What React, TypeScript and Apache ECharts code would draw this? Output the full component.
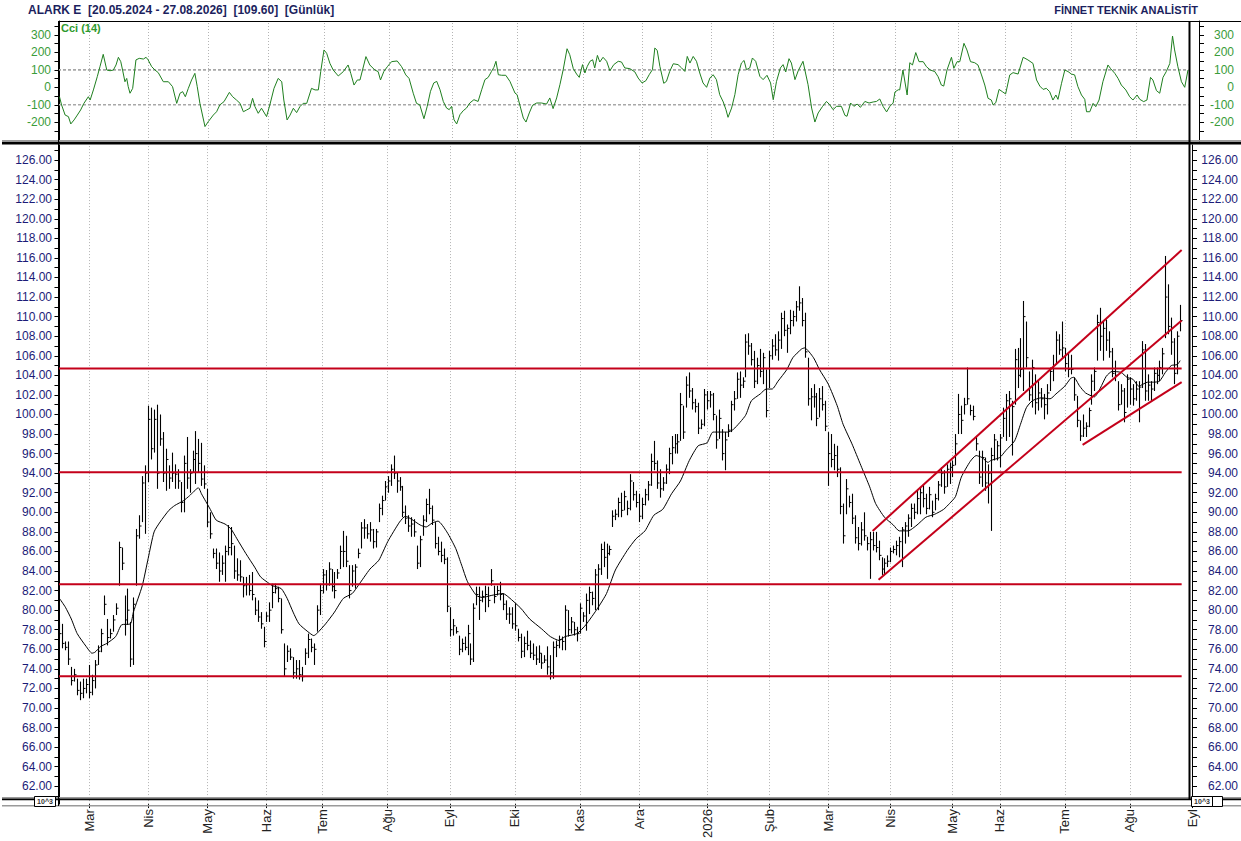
import React, { useEffect, useRef } from "react";
import * as echarts from "echarts";

// ---------- DATA ----------
// Daily bars: [low, high, close]
const barsA: number[][] = [
  [77.1,78.8,77.6],[76.1,78.6,76.6],[75.9,76.8,76.2],[74.4,76.8,75.0],[72.3,74.2,72.8],[72.7,74.0,73.4],[71.3,73.0,71.8],[70.8,72.7,71.5],[71.0,73.0,72.0],[71.5,73.0,72.4],
  [71.0,74.4,71.6],[71.3,73.4,72.8],[72.0,74.9,74.4],[74.4,76.4,75.8],[75.7,78.1,77.6],[79.5,81.5,80.6],[76.4,79.1,77.2],[77.1,78.1,77.6],[77.8,79.5,79.0],[79.5,80.7,80.2],
  [82.5,87.0,86.4],[84.1,86.4,84.8],[77.4,81.5,79.0],[78.5,82.2,80.0],[74.2,78.8,75.0],[74.4,81.3,80.6],[82.5,88.3,87.6],[87.3,89.7,88.6],[89.0,93.7,93.0],[87.8,94.8,94.0],
  [93.1,100.9,99.5],[95.4,100.7,96.5],[96.1,100.5,99.5],[92.4,101.0,94.0],[96.8,100.0,97.5],[93.1,98.2,94.0],[92.2,96.5,95.4],[92.4,94.8,93.5],[93.1,96.1,94.0],[92.4,94.9,93.9],
  [92.4,94.4,93.2],[90.0,93.1,91.0],[90.0,95.8,95.0],[92.4,97.7,93.5],[92.0,94.4,94.0],[94.1,96.3,95.4],[92.9,98.3,96.0],[94.1,97.5,95.0],[92.7,97.1,93.4],[92.4,94.8,92.9],
  [88.5,92.4,89.0],[87.3,90.0,87.8],[85.3,86.3,85.8],[84.2,86.3,84.8],[82.9,85.9,84.0],[83.6,85.6,84.8],[82.9,86.6,86.0],[85.6,88.7,86.4],[85.6,88.5,86.8],[83.2,86.6,84.0],
  [83.0,85.3,83.6],[82.9,85.1,83.4],[81.3,83.4,82.5],[81.5,83.4,82.6],[81.5,83.6,82.0],[81.0,83.9,81.6],[79.5,81.3,80.0],[78.8,81.0,79.3],[78.1,79.8,78.6],[76.2,78.3,76.8],
  [78.8,79.8,79.4],[78.8,80.8,80.0],
];
const barsB: number[][] = [
  [80.2,82.7,81.8],[81.7,82.7,82.2],[80.8,82.4,81.2],[77.6,81.2,78.0],[73.2,76.6,74.0],[74.7,76.4,75.8],[74.9,76.1,75.2],[73.0,75.2,73.6],[73.0,74.9,74.0],[72.9,74.9,73.4],
  [72.7,74.2,73.2],[74.4,76.1,75.6],[75.1,77.6,77.0],[75.7,77.1,76.2],[74.4,76.6,76.0],[77.8,80.5,80.0],[79.5,82.7,82.0],[81.7,84.2,83.6],[82.0,84.1,82.6],[82.5,84.9,84.2],
  [81.9,84.2,82.4],[81.2,83.9,82.0],[83.2,84.2,83.8],[84.2,86.6,86.0],[84.4,88.1,86.0],[84.4,87.6,85.0],[81.2,84.6,82.0],[82.4,84.6,84.0],[82.2,84.7,84.4],[85.3,86.3,85.8],
  [86.3,89.0,88.4],[87.3,89.3,88.4],[87.3,88.8,87.8],[87.0,89.0,88.2],[86.3,88.3,87.0],[86.4,88.3,88.0],[89.0,90.9,90.4],[89.7,91.7,91.2],[91.2,93.2,92.6],[92.0,93.7,93.2],
  [92.7,94.9,94.4],[93.4,95.8,94.0],[92.0,94.1,93.2],[92.2,93.6,92.6],[89.5,92.7,90.0],[88.8,90.7,89.4],[88.0,89.7,88.6],[87.5,89.5,88.8],[87.5,89.3,88.0],[84.2,86.6,84.8],
  [84.4,87.6,87.2],[87.6,89.7,89.2],[89.0,91.4,90.8],[89.8,92.4,90.4],[88.7,90.7,89.2],[86.3,89.0,86.8],[85.6,87.5,86.0],[84.9,87.0,85.6],[84.7,86.3,85.2],[79.8,85.4,80.4],
  [77.3,80.3,78.0],[77.4,79.1,78.4],[77.6,78.3,77.8],[75.4,77.4,76.0],[75.7,77.1,76.6],[75.9,77.3,76.2],[75.4,78.5,77.6],[74.4,76.6,75.0],[74.7,80.7,80.2],[80.5,82.4,81.6],
  [79.0,82.4,81.0],[80.8,82.0,81.4],[79.8,82.5,81.6],[80.3,82.4,81.0],[82.5,84.2,83.0],[80.7,82.5,81.4],[81.5,82.5,82.0],[81.0,82.9,81.6],
];
const barsC: number[][] = [
  [80.0,81.7,80.6],[79.0,81.0,79.6],[78.6,80.3,79.6],[78.1,80.3,78.6],[77.9,80.7,78.4],[76.8,78.1,77.2],[75.1,77.6,75.8],[75.2,77.3,76.6],[75.9,77.9,76.4],[75.1,76.9,75.6],
  [74.9,76.6,75.4],[74.4,76.3,75.0],[74.6,76.4,75.6],[74.0,75.6,74.6],[74.6,75.4,74.9],[73.4,76.3,74.2],[72.9,75.4,73.6],[73.0,76.8,76.2],[75.2,76.9,76.4],[76.1,77.4,77.0],
  [75.9,77.3,76.8],[75.9,80.5,80.0],[77.3,80.0,78.0],[77.6,79.3,78.8],[77.4,78.8,78.0],[76.8,78.3,77.6],[77.6,80.7,80.2],[78.8,79.8,79.4],[77.9,81.7,81.0],[79.6,82.4,81.8],
  [80.5,81.9,81.2],[80.0,84.2,83.6],[80.0,84.7,84.2],[83.6,86.8,86.2],[84.4,87.0,85.4],[83.2,86.8,85.8],[85.6,86.6,86.2],[88.5,90.2,89.6],[89.2,90.3,89.8],[89.5,91.5,91.0],
  [89.5,92.0,90.2],[90.2,92.2,91.6],[89.7,91.2,90.4],[90.2,93.9,93.2],[91.2,93.1,91.8],[90.5,92.2,91.0],[89.0,91.9,89.6],[89.3,91.5,90.8],[90.7,92.4,91.8],[91.2,93.2,92.8],
  [92.7,96.0,95.2],[94.3,97.3,95.0],[92.4,95.3,93.0],[91.5,94.4,92.4],[92.2,93.6,93.0],[92.9,94.9,94.4],[93.9,96.6,96.0],[94.9,97.8,96.6],[96.0,98.0,97.0],[96.0,98.0,97.2],
  [97.3,102.2,101.0],[97.5,100.9,98.2],[100.7,103.9,103.0],[101.7,104.3,102.4],[100.5,102.7,101.2],[100.2,101.6,100.8],[98.0,101.2,98.6],[98.5,99.5,99.0],[98.8,102.6,102.0],[100.5,102.4,101.4],
  [100.7,102.4,102.0],[99.4,102.2,100.0],[96.5,99.9,97.4],[97.5,100.5,99.6],[95.3,98.5,96.0],[94.3,98.2,97.4],[97.7,99.0,98.4],[98.2,101.4,101.0],
];
const barsD: number[][] = [
  [100.4,102.4,101.6],[101.6,104.3,103.6],[101.7,104.4,103.0],[102.7,103.8,103.4],[103.8,108.2,107.4],[106.1,108.3,107.0],[105.0,107.3,105.6],[102.7,106.5,103.4],[103.1,105.8,105.0],[103.8,106.7,104.4],
  [103.1,106.3,105.8],[99.7,104.6,100.4],[102.7,106.5,106.0],[105.6,107.7,107.0],[106.0,108.2,106.6],[105.5,108.5,107.6],[106.7,110.4,109.8],[108.0,110.6,108.6],[106.3,109.2,108.8],[108.2,110.7,109.6],
  [109.0,110.6,110.0],[109.5,111.6,111.0],[110.6,113.1,111.4],[109.0,111.9,109.6],[105.8,110.4,106.4],[100.9,105.8,101.6],[99.4,102.7,101.8],[100.7,103.1,101.8],[98.8,102.2,99.6],[99.7,102.7,101.6],
  [100.4,102.9,101.0],[98.3,101.4,98.8],[92.7,98.2,96.0],[94.6,98.0,95.4],[94.3,97.0,95.8],[93.6,96.8,94.4],[89.8,94.6,90.6],[86.8,90.9,87.6],[89.8,93.4,92.4],[90.5,91.7,91.0],
  [88.8,91.9,89.4],[86.8,89.7,87.4],[86.1,88.5,86.8],[86.6,89.0,88.2],[87.1,90.0,87.6],[86.1,87.5,86.8],[83.2,88.0,87.2],[86.1,88.0,86.6],[85.9,88.0,86.4],[85.1,87.1,85.6],
  [83.6,85.4,84.2],[83.7,85.3,84.8],[84.4,85.6,85.0],[84.9,86.4,86.0],[85.8,86.6,86.2],[85.6,87.1,86.6],[85.4,87.5,87.0],[84.4,88.5,88.2],[86.8,89.0,88.6],[87.5,89.8,89.4],
  [88.5,90.9,90.4],[89.3,90.9,90.0],[89.8,92.2,91.4],[89.8,92.6,92.0],[90.5,92.9,91.4],[89.8,91.9,90.4],[90.3,92.6,91.8],[89.5,91.2,90.0],[90.2,91.9,91.4],[91.2,93.2,92.8],
  [92.6,94.6,94.0],[91.9,94.3,92.6],[92.6,94.9,94.4],[92.9,95.1,94.6],[93.6,95.3,94.8],
];
const barsE: number[][] = [
  [94.8,98.0,97.0],[98.0,102.1,100.0],[98.0,100.9,99.4],[100.0,101.7,101.0],[101.0,104.8,101.6],[99.9,101.0,100.4],[99.4,100.9,99.8],[96.3,97.8,97.0],[92.9,96.3,93.6],[92.6,96.3,95.6],
  [92.2,95.6,93.0],[90.9,94.9,94.0],[88.1,96.6,95.8],[95.3,98.0,97.4],[95.3,97.3,96.8],[94.6,98.0,97.6],[97.7,100.7,99.6],[97.3,102.1,101.4],[97.7,102.4,101.6],[95.8,101.4,100.8],
  [101.0,106.7,105.6],[102.7,106.8,104.0],[103.8,107.8,104.6],[102.4,111.6,110.0],[104.8,109.5,105.8],[101.4,104.4,102.0],[100.7,105.6,104.8],[100.0,104.1,101.2],[100.4,103.4,102.2],[100.7,102.7,101.6],
  [99.5,102.1,101.0],[100.0,103.1,102.2],[102.4,104.8,104.4],[103.4,106.1,105.0],[105.1,108.5,107.6],[106.1,108.2,106.6],[105.8,109.5,106.8],[104.4,106.8,105.2],[103.8,106.3,104.6],[104.1,106.1,104.6],
  [101.4,103.8,102.0],[98.7,101.9,99.4],[97.3,99.4,97.8],[97.7,100.0,98.6],[97.7,99.2,98.8],[98.7,100.7,100.4],[101.0,104.1,103.4],[102.4,104.8,104.4],[105.5,110.2,109.4],[106.5,110.9,108.0],
  [105.5,109.5,108.8],[106.5,109.7,107.6],[105.8,108.5,106.4],[103.8,106.8,104.2],[103.4,105.5,104.0],[100.4,103.4,101.0],[101.0,103.1,102.4],[99.2,102.7,100.2],[100.7,104.1,103.6],[101.0,103.8,102.6],
  [100.9,103.1,101.6],[101.4,103.4,102.6],[99.2,103.4,102.8],[102.7,107.5,106.6],[101.4,107.2,102.4],[101.4,104.1,103.0],[101.4,103.4,102.6],[102.4,104.8,104.2],[103.1,104.8,104.0],[103.4,105.5,104.8],
  [104.1,106.8,106.2],[107.8,116.2,112.0],[108.2,113.3,109.0],[106.1,109.9,107.4],[103.1,107.8,104.2],[104.1,108.5,108.0],[108.5,111.2,109.6],
];

// Moving average line: [bar index, value]
const maPoints: number[][] = [
  [0,81.2],[2,80.3],[4,79.1],[6,77.6],[9,76.3],[11,75.6],[12,75.7],[14,76.3],[16,76.6],[19,77.3],[21,78.5],[24,78.6],[25,79.8],[28,82.5],[30,85.3],[32,88.0],[34,89.0],[37,90.2],[39,90.7],[42,91.2],
  [44,91.7],[47,92.5],[48,91.9],[51,90.3],[53,89.2],[56,88.8],[58,88.3],[60,87.3],[63,85.8],[66,84.4],[68,83.4],[71,82.7],[72,82.5],[75,82.2],[77,81.2],[79,79.8],[81,78.6],[84,77.8],[86,77.4],[87,77.6],
  [90,78.6],[93,79.8],[96,81.2],[99,81.7],[101,82.5],[105,84.2],[108,85.1],[111,87.0],[115,89.0],[117,89.6],[119,89.3],[122,88.7],[124,88.5],[126,88.9],[128,89.1],[131,88.0],[134,86.3],[136,84.6],[138,82.9],[141,81.5],
  [143,81.3],[146,81.5],[150,81.7],[152,81.3],[156,80.2],[159,79.1],[163,78.1],[166,77.3],[169,76.9],[171,77.3],[175,77.6],[178,78.5],[182,80.2],[185,81.7],[188,84.1],[192,86.1],[195,87.3],[198,88.1],[201,89.7],[204,90.3],
  [207,91.9],[210,93.2],[213,95.3],[216,96.8],[219,97.1],[221,98.2],[224,98.2],[226,98.2],[228,98.5],[232,99.9],[234,101.4],[237,102.1],[239,102.6],[241,102.6],[243,103.4],[246,104.6],[248,105.8],[251,106.7],[252,106.8],[255,105.8],
  [257,104.6],[260,103.1],[263,100.9],[265,99.0],[268,97.0],[271,94.8],[274,92.6],[276,90.9],[279,89.5],[282,88.7],[284,88.1],[287,88.1],[290,88.7],[293,89.5],[296,89.8],[299,90.3],[301,90.9],[303,91.6],[305,93.6],[308,95.2],
  [310,95.8],[312,95.6],[314,95.1],[315,95.3],[318,95.6],[320,96.3],[323,97.3],[325,99.0],[327,100.7],[329,101.4],[332,101.7],[335,101.6],[337,102.1],[340,102.9],[342,103.7],[343,103.8],[345,102.9],[347,102.2],[350,101.8],[352,102.7],
  [354,103.9],[356,104.4],[359,104.3],[361,103.8],[363,103.6],[365,102.9],[368,103.3],[370,103.3],[372,103.4],[374,104.3],[376,105.0],[378,105.1],[379,105.5],
];

// CCI(14): [bar position, value]
const cciPoints: number[][] = [
  [0,-54],[0.7,-101],[1.9,-159],[3.0,-168],[3.8,-210],[4.9,-187],[6.0,-159],[7.1,-130],[8.2,-92],[9.7,-54],[10.3,-73],[11.4,-15],[12.7,61],[13.6,118],[14.7,189],[15.9,99],[17.0,95],[18.1,99],[19.0,128],[19.8,172],
  [20.6,147],[21.2,99],[22.0,32],[22.6,51],[23.1,4],[23.7,-34],[24.6,-6],[25.7,157],[26.8,166],[28.2,162],[29.1,172],[29.8,157],[31.0,118],[32.1,99],[33.2,84],[34.9,32],[36.6,32],[38.0,4],[39.4,-92],[40.5,-34],
  [41.4,-25],[42.3,-54],[43.3,-6],[44.4,42],[45.5,80],[46.3,4],[47.2,-92],[48.9,-225],[50.0,-197],[51.7,-159],[52.8,-140],[53.9,-101],[55.3,-82],[57.1,-29],[58.2,-54],[59.5,-73],[60.7,-92],[61.8,-140],[62.9,-130],[64.0,-120],
  [64.9,-63],[65.7,-111],[66.8,-149],[67.9,-120],[69.6,-168],[70.7,-101],[72.1,-6],[73.5,51],[74.7,32],[75.4,-73],[76.5,-187],[77.5,-159],[78.6,-120],[79.7,-145],[80.8,-111],[81.9,-92],[83.1,-92],[84.7,-6],[85.9,-15],[87.0,-15],
  [87.8,90],[88.9,214],[89.8,195],[90.9,137],[92.0,99],[93.7,65],[95.4,90],[97.0,128],[97.9,80],[99.0,13],[100.1,42],[101.0,42],[103.0,176],[104.3,128],[106.0,99],[107.1,90],[107.9,42],[109.0,90],[110.2,118],[111.6,147],
  [113.5,151],[115.0,118],[116.4,71],[117.5,51],[118.9,-34],[120.0,-92],[121.1,-101],[122.5,-180],[123.6,-109],[124.7,-23],[125.8,25],[126.8,34],[127.9,-14],[129.0,-81],[130.1,-119],[131.0,-128],[131.8,-109],[132.6,-186],[133.5,-210],[134.6,-157],
  [135.7,-134],[136.8,-119],[137.9,-90],[139.3,-71],[140.7,-81],[141.9,-14],[143.0,44],[144.1,57],[145.2,91],[146.0,114],[146.7,149],[147.5,72],[148.6,69],[150.0,69],[151.4,34],[153.1,-33],[153.8,-42],[155.0,-119],[155.9,-176],[156.8,-199],
  [157.9,-147],[159.0,-103],[160.4,-90],[162.0,-90],[163.7,-96],[164.8,-61],[165.9,-122],[167.1,-61],[168.2,15],[169.3,101],[170.6,221],[171.5,187],[172.7,107],[173.8,76],[174.7,57],[175.8,130],[176.6,82],[177.4,120],[178.3,149],[179.2,158],
  [179.9,111],[180.8,183],[181.6,145],[182.7,172],[183.9,149],[185.0,95],[186.3,130],[187.8,149],[188.9,145],[190.0,111],[191.7,107],[193.4,88],[194.5,53],[195.8,25],[197.1,38],[198.2,72],[199.3,101],[200.1,225],[200.9,212],[201.8,120],
  [203.1,23],[204.0,34],[205.1,91],[206.3,135],[207.9,130],[209.1,111],[210.2,91],[211.0,177],[211.9,139],[213.0,177],[214.1,149],[215.2,82],[216.3,25],[217.5,0],[218.6,53],[219.7,72],[220.8,44],[221.9,-42],[223.1,-84],[224.0,-128],
  [224.7,-172],[225.9,-119],[227.0,-42],[228.1,72],[229.2,139],[230.1,154],[230.9,101],[232.0,111],[232.9,168],[234.0,149],[235.4,63],[236.5,44],[237.8,69],[239.0,25],[239.9,-71],[241.0,34],[242.3,111],[243.2,130],[244.1,88],[245.2,164],
  [246.0,139],[247.2,44],[248.3,95],[249.9,149],[251.6,15],[252.8,-119],[253.9,-199],[255.0,-147],[256.5,-109],[257.8,-81],[258.9,-100],[260.0,-128],[261.2,-109],[262.8,-109],[264.0,-161],[264.7,-166],[265.9,-90],[267.0,-109],[268.1,-96],[269.2,-115],
  [270.7,-81],[272.1,-90],[273.5,-84],[274.6,-81],[275.7,-67],[276.8,-109],[278.0,-141],[279.1,-109],[280.2,-90],[280.8,-27],[281.9,-14],[282.4,-15],[283.5,99],[284.9,-44],[285.8,141],[286.7,128],[287.8,199],[288.9,147],[290.3,147],[291.4,118],
  [292.7,99],[294.2,90],[295.3,61],[296.4,13],[297.2,7],[298.3,99],[299.8,172],[300.6,109],[301.7,147],[302.6,147],[304.0,252],[305.0,214],[306.2,147],[307.6,141],[308.7,128],[309.9,71],[311.0,13],[312.1,-63],[313.2,-73],[313.8,-101],
  [314.7,-88],[315.8,-12],[316.9,-25],[318.0,-38],[319.4,71],[320.5,84],[322.2,76],[323.9,172],[325.5,157],[327.2,137],[328.4,42],[329.5,7],[330.6,-12],[331.7,-6],[332.8,-25],[333.9,-73],[334.9,-44],[335.6,-69],[336.8,23],[337.9,99],
  [339.0,90],[340.1,76],[341.2,71],[342.3,4],[343.5,-44],[344.6,-69],[345.2,-140],[346.3,-140],[347.4,-92],[348.3,-111],[349.4,-73],[350.7,32],[352.4,128],[353.2,109],[354.7,80],[355.8,51],[356.9,13],[358.4,-15],[359.7,-54],[360.8,-73],
  [362.2,-44],[363.1,-69],[364.4,-82],[365.5,-73],[366.7,57],[367.5,42],[368.7,-19],[369.8,-34],[370.9,57],[372.0,90],[373.2,137],[374.1,294],[374.8,214],[375.9,118],[377.1,32],[378.2,0],[379.3,99],
];

// Horizontal support / resistance levels
const levels = [104.7, 94.1, 82.65, 73.25];
// Trend channel lines: [[bar, price], [bar, price]]
const channelUpper = [[275, 88.1], [379.5, 116.8]];
const channelMiddle = [[277, 83.1], [379.5, 109.6]];
const channelLower = [[346, 96.9], [379.5, 103.3]];

// CCI reference bands
const cciBands = [100, -100];

// Month axis: first bar of each month and its label
const monthTicks = [10, 30, 50, 70, 89, 111, 132, 154, 176, 196, 219, 240, 260, 281, 302, 318, 340, 362, 383];
const monthNames = ["Mar", "Nis", "May", "Haz", "Tem", "Ağu", "Eyl", "Eki", "Kas", "Ara", "2026", "Şub", "Mar", "Nis", "May", "Haz", "Tem", "Ağu", "Eyl"];

// Tick labels
const priceLabels = [62, 64, 66, 68, 70, 72, 74, 76, 78, 80, 82, 84, 86, 88, 90, 92, 94, 96, 98, 100, 102, 104, 106, 108, 110, 112, 114, 116, 118, 120, 122, 124, 126];
const cciLabels = [-200, -100, 0, 100, 200, 300];
const cciTickMarks = [-250, -200, -150, -100, -50, 0, 50, 100, 150, 200, 250, 300, 350];

const titleLeft = "ALARK E  [20.05.2024 - 27.08.2026]  [109.60]  [Günlük]";
const titleRight = "FİNNET TEKNİK ANALİSTİT";
const cciTitle = "Cci (14)";
const scaleNote = "10^3";

// ---------- LAYOUT / STYLE ----------
const FONT = "'Liberation Sans', Arial, sans-serif";
const RED = "#c4001a";
const NAVY = "#1c1c78";
const GREEN_TXT = "#3a9c3a";
const GREEN_LINE = "#1f7f1f";

export default function App() {
  const ref = useRef<HTMLDivElement>(null);

  useEffect(() => {
    if (!ref.current) return;
    const chart = echarts.init(ref.current, undefined, { renderer: "svg" });

    const bars = [...barsA, ...barsB, ...barsC, ...barsD, ...barsE];
    const lastBar = bars.length - 0.5;
    const barData = bars.map((b, i) => [i, b[0], b[1], b[2]]);
    const priceTickMarks: number[] = [];
    for (let v = 61; v <= 127; v++) priceTickMarks.push(v);

    const gridLines = {
      silent: true,
      symbol: ["none", "none"],
      label: { show: false },
      z: 1,
      lineStyle: { color: "#b4b4b4", type: [1, 2], width: 1 },
      data: monthTicks.slice(0, -1).map((v) => ({ xAxis: v })),
    };

    const redLine = (data: number[][], name: string) => ({
      name,
      type: "line",
      xAxisIndex: 1,
      yAxisIndex: 2,
      data,
      showSymbol: false,
      silent: true,
      z: 6,
      lineStyle: { color: RED, width: 2 },
    });

    const option: any = {
      animation: false,
      backgroundColor: "#ffffff",
      textStyle: { fontFamily: FONT },
      grid: [
        { left: 58, top: 21, width: 1141, height: 120 },
        { left: 58, top: 145, width: 1141, height: 661 },
      ],
      xAxis: [
        {
          gridIndex: 0, type: "value", min: -0.5, max: 383,
          axisLine: { show: false }, axisTick: { show: false }, axisLabel: { show: false }, splitLine: { show: false },
        },
        {
          gridIndex: 1, type: "value", min: -0.5, max: 383,
          axisLine: { show: false },
          splitLine: { show: false },
          axisTick: { show: true, customValues: monthTicks, length: 4, lineStyle: { color: "#000" } },
          axisLabel: {
            customValues: monthTicks,
            rotate: 90,
            margin: 5,
            color: "#222",
            fontSize: 13,
            fontFamily: FONT,
            formatter: (v: number) => {
              const k = monthTicks.indexOf(v);
              return k >= 0 ? monthNames[k] : "";
            },
          },
        },
      ],
      yAxis: [
        {
          gridIndex: 0, type: "value", position: "left", min: -307.7, max: 380,
          axisLine: { show: true, lineStyle: { color: "#000", width: 1 } },
          axisTick: { show: true, customValues: cciTickMarks, length: 5, lineStyle: { color: "#000" } },
          axisLabel: { customValues: cciLabels, color: GREEN_TXT, fontSize: 12, margin: 7, fontFamily: FONT },
          splitLine: { show: false },
        },
        {
          gridIndex: 0, type: "value", position: "right", min: -307.7, max: 380,
          axisLine: { show: true, lineStyle: { color: "#000", width: 1 } },
          axisTick: { show: true, customValues: cciTickMarks, length: 5, lineStyle: { color: "#000" } },
          axisLabel: { customValues: cciLabels, color: GREEN_TXT, fontSize: 12, margin: 35, align: "right", fontFamily: FONT },
          splitLine: { show: false },
        },
        {
          gridIndex: 1, type: "value", position: "left", min: 60.18, max: 127.54,
          axisLine: { show: true, lineStyle: { color: "#000", width: 1 } },
          axisTick: { show: true, customValues: priceTickMarks, length: 5, lineStyle: { color: "#000" } },
          axisLabel: { customValues: priceLabels, color: NAVY, fontSize: 12, margin: 6, fontFamily: FONT, formatter: (v: number) => v.toFixed(2) },
          splitLine: { show: false },
        },
        {
          gridIndex: 1, type: "value", position: "right", min: 60.18, max: 127.54,
          axisLine: { show: true, lineStyle: { color: "#000", width: 1 } },
          axisTick: { show: true, customValues: priceTickMarks, length: 5, lineStyle: { color: "#000" } },
          axisLabel: { customValues: priceLabels, color: NAVY, fontSize: 12, margin: 46, align: "right", fontFamily: FONT, formatter: (v: number) => v.toFixed(2) },
          splitLine: { show: false },
        },
      ],
      series: [
        // CCI bands (+ month grid lines of the CCI panel)
        ...cciBands.map((b, k) => ({
          name: "band" + b,
          type: "line",
          xAxisIndex: 0,
          yAxisIndex: 0,
          data: [[-0.5, b], [lastBar, b]],
          showSymbol: false,
          silent: true,
          z: 2,
          lineStyle: { color: "#a8a8a8", width: 1.6, type: [3, 2] },
          markLine: k === 0 ? gridLines : undefined,
        })),
        {
          name: "CCI",
          type: "line",
          xAxisIndex: 0,
          yAxisIndex: 0,
          data: cciPoints,
          showSymbol: false,
          silent: true,
          z: 3,
          lineStyle: { color: GREEN_LINE, width: 1 },
        },
        {
          name: "ALARK",
          type: "custom",
          xAxisIndex: 1,
          yAxisIndex: 2,
          data: barData,
          encode: { x: 0, y: [1, 2, 3] },
          silent: true,
          z: 3,
          renderItem: (params: any, api: any) => {
            const i = api.value(0);
            const lo = api.coord([i, api.value(1)]);
            const hi = api.coord([i, api.value(2)]);
            const cl = api.coord([i, api.value(3)]);
            const x = Math.round(lo[0]) + 0.5;
            return {
              type: "group",
              children: [
                { type: "line", shape: { x1: x, y1: lo[1], x2: x, y2: hi[1] }, style: { stroke: "#000", lineWidth: 1.1 } },
                { type: "line", shape: { x1: x, y1: cl[1], x2: x + 2, y2: cl[1] }, style: { stroke: "#000", lineWidth: 1 } },
              ],
            };
          },
          markLine: gridLines,
        },
        {
          name: "MA",
          type: "line",
          xAxisIndex: 1,
          yAxisIndex: 2,
          data: maPoints,
          showSymbol: false,
          silent: true,
          smooth: 0.2,
          z: 4,
          lineStyle: { color: "#000", width: 1 },
        },
        ...levels.map((v, k) => redLine([[-0.5, v], [lastBar, v]], "level" + k)),
        redLine(channelUpper, "chUp"),
        redLine(channelMiddle, "chMid"),
        redLine(channelLower, "chLow"),
      ],
      graphic: {
        elements: [
          { type: "text", x: 28, y: 9.5, z: 100, style: { text: titleLeft, fill: "#1c1f5e", font: "bold 12px " + FONT, textVerticalAlign: "middle" } },
          { type: "text", x: 1198, y: 9.5, z: 100, style: { text: titleRight, fill: "#1c1f5e", font: "bold 11px " + FONT, textAlign: "right", textVerticalAlign: "middle" } },
          { type: "text", x: 61, y: 27.5, z: 100, style: { text: cciTitle, fill: "#2e9a2e", font: "bold 11px " + FONT, textVerticalAlign: "middle" } },
          // panel borders
          { type: "line", z: 100, shape: { x1: 58, y1: 21.5, x2: 1241, y2: 21.5 }, style: { stroke: "#000", lineWidth: 1 } },
          { type: "rect", z: 100, shape: { x: 2, y: 140, width: 1239, height: 1.5 }, style: { fill: "#9a9a9a" } },
          { type: "rect", z: 100, shape: { x: 2, y: 141.8, width: 1239, height: 2.6 }, style: { fill: "#000" } },
          { type: "rect", z: 100, shape: { x: 2, y: 797, width: 1239, height: 1.4 }, style: { fill: "#9a9a9a" } },
          { type: "rect", z: 100, shape: { x: 2, y: 798.6, width: 1239, height: 1.6 }, style: { fill: "#000" } },
          { type: "rect", z: 100, shape: { x: 2, y: 805, width: 1239, height: 1.4 }, style: { fill: "#9a9a9a" } },
          { type: "line", z: 101, shape: { x1: 1189.5, y1: 21, x2: 1189.5, y2: 800 }, style: { stroke: "#000", lineWidth: 2 } },
          { type: "line", z: 101, shape: { x1: 58.5, y1: 21, x2: 58.5, y2: 806 }, style: { stroke: "#000", lineWidth: 1 } },
          // 10^3 scale boxes
          { type: "rect", z: 103, shape: { x: 34.5, y: 796.5, width: 21, height: 10 }, style: { fill: "#fff", stroke: "#000", lineWidth: 1 } },
          { type: "text", z: 104, x: 45, y: 801.6, style: { text: scaleNote, fill: "#333", font: "bold 7px " + FONT, textAlign: "center", textVerticalAlign: "middle" } },
          { type: "rect", z: 102, shape: { x: 1201.5, y: 796.5, width: 21, height: 10 }, style: { fill: "#fff", stroke: "#000", lineWidth: 1 } },
          { type: "rect", z: 103, shape: { x: 1191.5, y: 796.5, width: 21, height: 10 }, style: { fill: "#fff", stroke: "#000", lineWidth: 1 } },
          { type: "text", z: 104, x: 1202, y: 801.6, style: { text: scaleNote, fill: "#333", font: "bold 7px " + FONT, textAlign: "center", textVerticalAlign: "middle" } },
        ],
      },
    };

    chart.setOption(option);
    return () => chart.dispose();
  }, []);

  return (
    <div
      style={{ position: "fixed", left: 0, top: 0, width: 1241, height: 841, background: "#fff", overflow: "hidden" }}
    >
      <div ref={ref} style={{ width: 1241, height: 841 }} />
    </div>
  );
}
